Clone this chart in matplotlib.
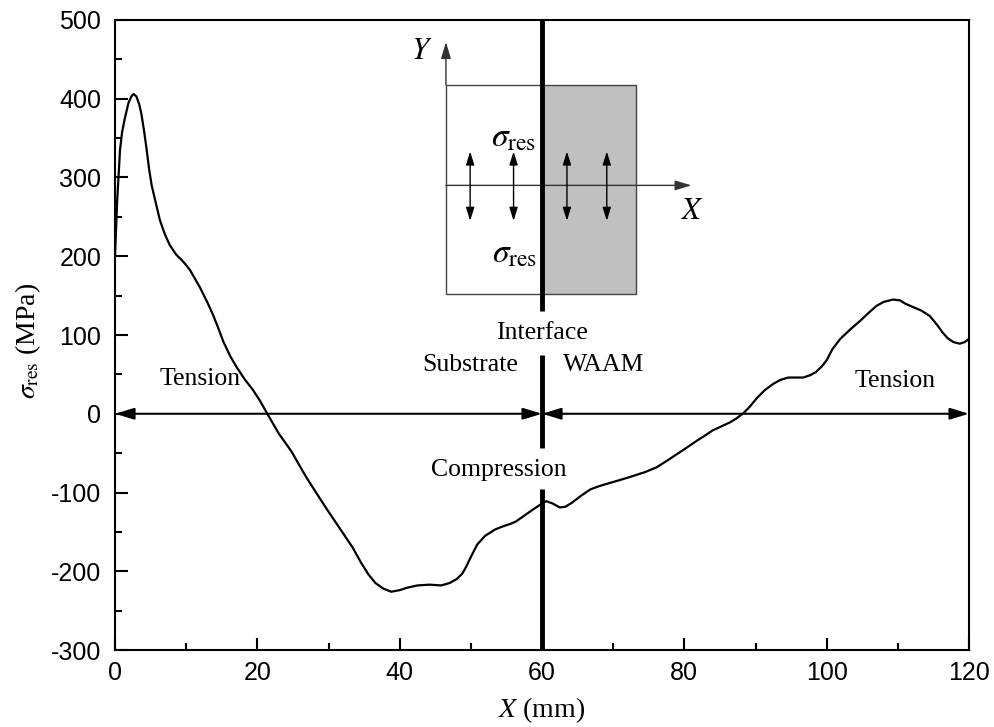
import matplotlib
matplotlib.use('Agg')
import matplotlib.pyplot as plt
from matplotlib.patches import Rectangle

plt.rcParams['mathtext.fontset'] = 'stix'
plt.rcParams['font.family'] = ['Liberation Sans', 'DejaVu Sans']
plt.rcParams['axes.unicode_minus'] = False

# residual stress profile
x_mm = [0, 0.3, 0.7, 1.0, 1.4, 1.9, 2.3, 2.6, 3.0, 3.4, 3.7, 4.1, 4.45, 4.8, 5.15,
        6.3, 7.0, 7.7, 8.6, 9.6, 10.5, 11.9, 13.0, 13.8, 14.5, 15.2, 16.2, 17.1,
        18.2, 19.4, 20.4, 21.4, 23.0, 24.8, 26.9, 29.6, 33.4, 34.5, 35.6, 36.6,
        37.7, 38.8, 40.0, 41.0, 42.5, 44.2, 45.8, 47.0, 48.0, 48.8, 49.3, 50.1,
        50.9, 52.0, 53.4, 54.5, 55.5, 56.3, 57.1, 58.5, 60.0, 60.6, 61.5, 62.5,
        63.3, 64.2, 65.5, 66.8, 68.0, 69.1, 71.0, 72.8, 74.5, 76.1, 77.5, 79.0,
        80.5, 81.8, 83.0, 84.0, 85.2, 86.4, 87.3, 88.2, 89.2, 90.2, 91.3, 92.5,
        93.5, 94.6, 95.6, 96.7, 97.7, 98.5, 99.3, 100.0, 100.8, 101.9, 103.3,
        104.7, 106.0, 107.0, 108.0, 109.3, 110.3, 111.0, 112.0, 113.3, 114.5,
        115.5, 116.3, 117.0, 117.8, 118.7, 119.4, 120.0]
sigma_res = [200, 270, 335, 358, 376, 395, 403, 406, 403, 393, 381, 358, 335, 310, 290,
             246, 228, 214, 202, 193, 183, 161, 141, 125, 109, 92, 73, 59,
             44, 30, 16, 0, -25, -48, -81, -119, -170, -188, -204, -215,
             -222, -226, -224, -221, -218, -217, -218, -215, -210, -203, -195, -180,
             -166, -155, -147, -143, -140, -137, -132, -123, -114, -111, -114, -119,
             -118, -113, -104, -96, -92, -89, -84, -79, -74, -68, -60, -51,
             -42, -34, -27, -21, -16, -11, -6, 0, 9, 20, 30, 38,
             43, 46, 46, 46, 49, 53, 60, 68, 82, 95, 107,
             118, 129, 137, 142, 145, 144, 140, 136, 131, 124,
             113, 103, 96, 91, 89, 91, 95]

x_ticks = [0, 20, 40, 60, 80, 100, 120]
y_ticks = [-300, -200, -100, 0, 100, 200, 300, 400, 500]

serif = 'Liberation Serif'

fig = plt.figure(figsize=(9.95, 7.27), dpi=100)
ax = fig.add_axes([0.1156, 0.1059, 0.8583, 0.8666])

ax.plot(x_mm, sigma_res, color='k', lw=1.6, zorder=3)

# interface line (broken around the labels)
for y0, y1 in [(131, 500), (75, -43), (-95, -300)]:
    ax.plot([60, 60], [y0, y1], color='k', lw=3.5, solid_capstyle='butt', zorder=4)

# zero line double arrows
arrow_kw = dict(arrowstyle='<|-|>,head_length=1.15,head_width=0.35', lw=1.5,
                color='k', shrinkA=0, shrinkB=0, mutation_scale=10)
ax.annotate('', xy=(0, 0), xytext=(60, 0), arrowprops=arrow_kw, zorder=5)
ax.annotate('', xy=(60, 0), xytext=(120, 0), arrowprops=arrow_kw, zorder=5)

# inset sketch
ax.add_patch(Rectangle((46.5, 152), 13.5, 265.5, facecolor='white',
                       edgecolor='#444444', lw=1, zorder=2))
ax.add_patch(Rectangle((60, 152), 13.2, 265.5, facecolor='#c0c0c0',
                       edgecolor='#444444', lw=1, zorder=2))
axis_kw = dict(arrowstyle='-|>,head_length=1.0,head_width=0.3', lw=1,
               color='#333333', shrinkA=0, shrinkB=0, mutation_scale=10)
ax.annotate('', xy=(46.5, 472), xytext=(46.5, 417.5), arrowprops=axis_kw, zorder=3)
ax.annotate('', xy=(81, 290), xytext=(46.5, 290), arrowprops=axis_kw, zorder=3)
dbl_kw = dict(arrowstyle='<|-|>,head_length=0.8,head_width=0.25', lw=1,
              color='k', shrinkA=0, shrinkB=0, mutation_scale=10)
for xa in [49.9, 56.0, 63.5, 69.1]:
    ax.annotate('', xy=(xa, 245), xytext=(xa, 333), arrowprops=dbl_kw, zorder=3)

ax.text(43.1, 460, r'$Y$', fontsize=22, ha='center', va='center')
ax.text(81.2, 257, r'$X$', fontsize=22, ha='center', va='center')
ax.text(56.0, 350, r'$\sigma_{\rm res}$', fontsize=24, ha='center', va='center')
ax.text(56.2, 203, r'$\sigma_{\rm res}$', fontsize=24, ha='center', va='center')

# annotations
txt_kw = dict(fontsize=18.5, family=serif, ha='center', va='center')
ax.text(11.9, 44, 'Tension', **txt_kw)
ax.text(49.9, 62, 'Substrate', **txt_kw)
ax.text(68.6, 62, 'WAAM', **txt_kw)
ax.text(109.6, 42, 'Tension', **txt_kw)
ax.text(60, 102, 'Interface', **txt_kw)
ax.text(53.9, -71, 'Compression', **txt_kw)

ax.set_xlim(0, 120)
ax.set_ylim(-300, 500)
ax.set_xticks(x_ticks)
ax.set_yticks(y_ticks)
ax.set_xticks(range(10, 120, 20), minor=True)
ax.set_yticks(range(-250, 500, 100), minor=True)
ax.tick_params(which='major', direction='in', length=9, width=1.5, labelsize=18, pad=8)
ax.tick_params(axis='y', which='major', pad=10)
ax.tick_params(which='minor', direction='in', length=5, width=1.5)
for s in ax.spines.values():
    s.set_linewidth(1.5)

ax.set_xlabel(r'$X$ (mm)', fontsize=20, family=serif, labelpad=7)
ax.set_ylabel(r'$\sigma_{\rm res}$ (MPa)', fontsize=20, family=serif)
ax.yaxis.set_label_coords(-0.084, 0.49)

fig.savefig('out.png', dpi=100)
